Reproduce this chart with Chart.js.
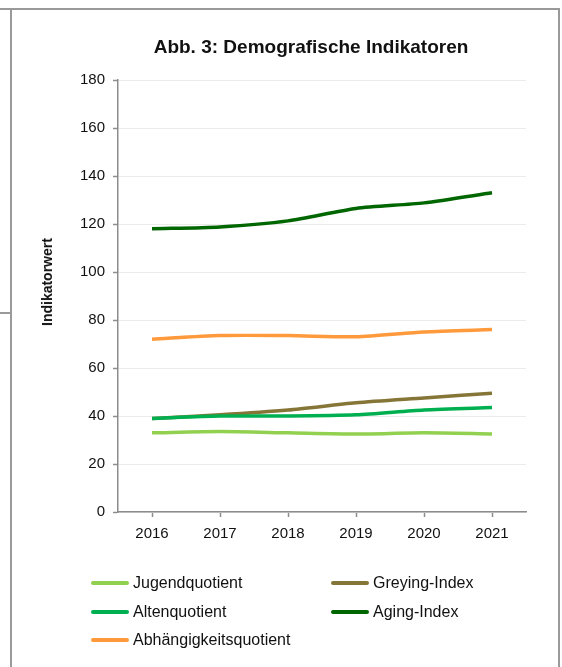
<!DOCTYPE html>
<html>
<head>
<meta charset="utf-8">
<script src="https://cdn.jsdelivr.net/npm/chart.js@4.4.0/dist/chart.umd.min.js"></script>
<style>
  html, body { margin: 0; padding: 0; background: #fff; }
  #wrap { position: relative; width: 562px; height: 667px; overflow: hidden;
          font-family: "Liberation Sans", Arial, sans-serif; color: #111; }
  #chart { position: absolute; left: 0; top: 0; }
  .frame { position: absolute; background: #9a9a9a; }
  #title { position: absolute; top: 36px; left: 111px; width: 400px; text-align: center;
           font-weight: bold; font-size: 19px; }
  #ytitle { position: absolute; left: 47px; top: 282px; font-weight: bold; font-size: 14px;
            transform: translate(-50%, -50%) rotate(-90deg); white-space: nowrap; }
  .leg { position: absolute; font-size: 16px; line-height: 18px; white-space: nowrap; }
  .leg span { display: inline-block; width: 38px; height: 4px; border-radius: 2px;
              vertical-align: middle; margin-right: 4px; position: relative; top: -1px; }
</style>
</head>
<body>
<div id="wrap">
  <div class="frame" style="left:0;top:8px;width:560px;height:1.5px"></div>
  <div class="frame" style="left:10px;top:8px;width:1.5px;height:660px"></div>
  <div class="frame" style="left:0;top:312px;width:11px;height:1.5px"></div>
  <div class="frame" style="left:558px;top:8px;width:1.5px;height:660px"></div>
  <canvas id="chart" width="562" height="667"></canvas>
  <div id="title">Abb. 3: Demografische Indikatoren</div>
  <div id="ytitle">Indikatorwert</div>
  <div id="legend"></div>
</div>
<script>
// Daten
const jahre = ['2016', '2017', '2018', '2019', '2020', '2021'];
const jugendquotient = [33, 33.5, 33, 32.5, 33, 32.5];
const altenquotient = [39, 40, 40, 40.5, 42.5, 43.5];
const abhaengigkeitsquotient = [72, 73.5, 73.5, 73, 75, 76];
const greyingIndex = [39, 40.5, 42.5, 45.5, 47.5, 49.5];
const agingIndex = [118, 118.8, 121.3, 126.5, 128.8, 133];
const yTicks = [0, 20, 40, 60, 80, 100, 120, 140, 160, 180];

const linie = (label, data, color, order) => ({
    label, data, borderColor: color, backgroundColor: color,
    borderWidth: 3.5, pointRadius: 0, tension: 0.25, fill: false, order
});

// order: kleinere Zahl wird oben gezeichnet
const datasets = [
    linie('Jugendquotient', jugendquotient, '#92d050', 5),
    linie('Greying-Index', greyingIndex, '#857638', 4),
    linie('Altenquotient', altenquotient, '#00b050', 3),
    linie('Aging-Index', agingIndex, '#006600', 2),
    linie('Abhängigkeitsquotient', abhaengigkeitsquotient, '#ff9a3c', 1)
];

const tickFont = { family: '"Liberation Sans", Arial, sans-serif', size: 15 };
const achse = '#8c8c8c';

const chart = new Chart(document.getElementById('chart'), {
    type: 'line',
    data: { labels: jahre, datasets },
    options: {
        responsive: false,
        animation: false,
        layout: { padding: { left: 60, right: 36, top: 80, bottom: 115 } },
        plugins: { legend: { display: false }, title: { display: false }, tooltip: { enabled: false } },
        scales: {
            x: {
                offset: true,
                grid: { drawOnChartArea: false, tickLength: 5, tickColor: achse, tickWidth: 1.5 },
                border: { color: achse, width: 1.5 },
                ticks: { color: '#111', font: tickFont, padding: 8, maxRotation: 0 },
                afterFit: (s) => { s.height = 40; }
            },
            y: {
                min: 0, max: 180,
                afterBuildTicks: (s) => { s.ticks = yTicks.map(v => ({ value: v })); },
                grid: { color: '#ebebeb', lineWidth: 1, tickLength: 5, tickColor: achse, tickWidth: 1.5 },
                border: { color: achse, width: 1.5 },
                ticks: { color: '#111', font: tickFont, padding: 8 },
                afterFit: (s) => { s.width = 58; }
            }
        }
    }
});

// Legende (zwei Spalten, zeilenweise)
const legendPos = [[91, 583], [331, 583], [91, 612], [331, 612], [91, 640]];
const legend = document.getElementById('legend');
chart.data.datasets.forEach((ds, i) => {
    const el = document.createElement('div');
    el.className = 'leg';
    el.style.left = legendPos[i][0] + 'px';
    el.style.top = (legendPos[i][1] - 9) + 'px';
    el.innerHTML = '<span style="background:' + ds.borderColor + '"></span>' + ds.label;
    legend.appendChild(el);
});
</script>
</body>
</html>
